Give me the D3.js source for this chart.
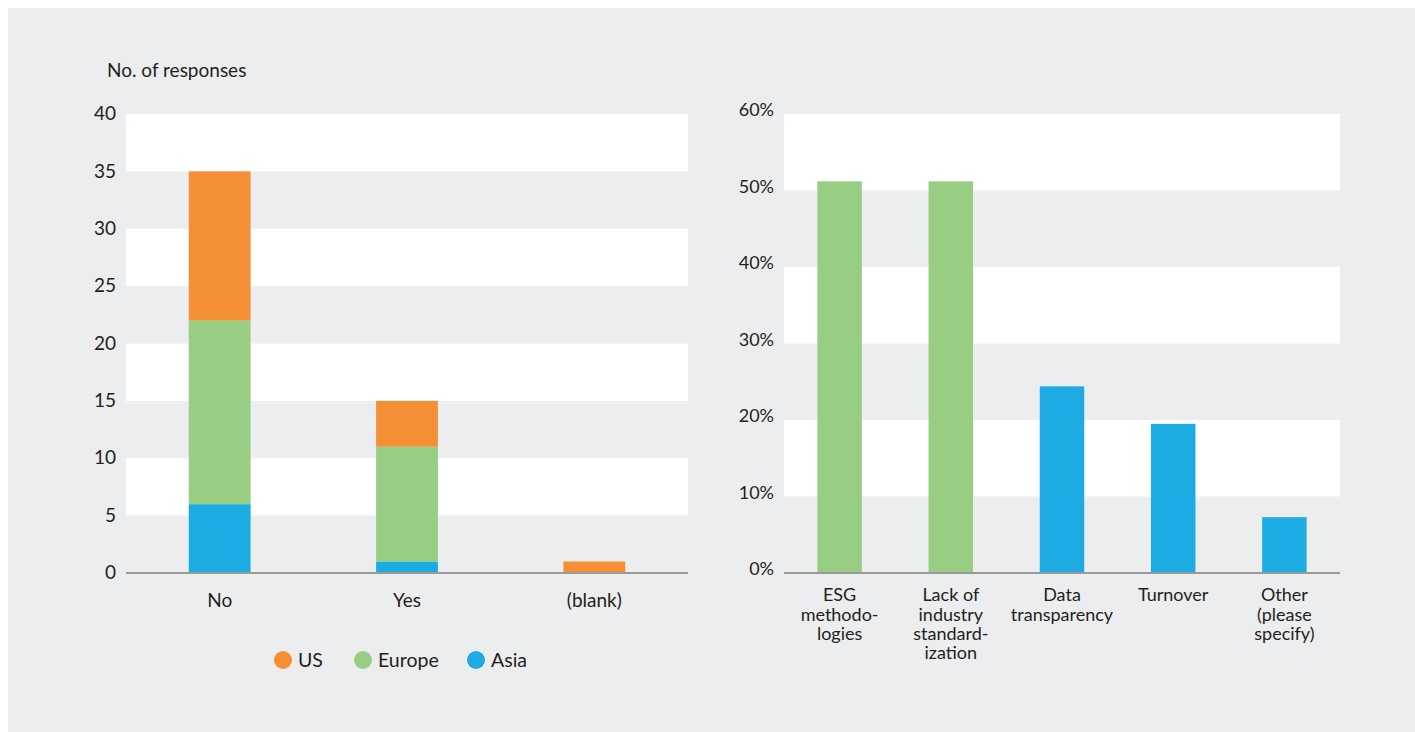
<!DOCTYPE html>
<html><head><meta charset="utf-8">
<script src="https://cdn.jsdelivr.net/npm/d3@7"></script>
<style>body{margin:0;background:#fff;font-family:Lato, "Open Sans", sans-serif;}</style>
</head><body><svg id="c" width="1415" height="732"></svg>
<script>
const leftCategories = ["No", "Yes", "(blank)"];
const seriesNames = ["Asia", "Europe", "US"];
const asiaValues = [6, 1, 0];
const europeValues = [16, 10, 0];
const usValues = [13, 4, 1];
const leftTicks = [0, 5, 10, 15, 20, 25, 30, 35, 40];

const rightCategories = [["ESG","methodo-","logies"],["Lack of","industry","standard-","ization"],["Data","transparency"],["Turnover"],["Other","(please","specify)"]];
const rightValues = [51.2, 51.2, 24.4, 19.5, 7.3];
const rightColorKeys = ["Europe","Europe","Asia","Asia","Asia"];
const rightTicks = [0, 10, 20, 30, 40, 50, 60];

const colors = {US:"#F58F35", Europe:"#98CE83", Asia:"#1CABE2"};
const svg = d3.select("#c");
svg.append("rect").attr("x",8).attr("y",8).attr("width",1407).attr("height",724).attr("fill","#ECEDEF");

// LEFT
const lx = d3.scaleBand().domain(leftCategories).range([126,688]).paddingInner(0.67).paddingOuter(0.335);
const ly = d3.scaleLinear().domain([0,40]).range([573,114]);
const gL = svg.append("g");
for (let i=0;i<leftTicks.length-1;i++){
  if (i%2===1) gL.append("rect").attr("x",126).attr("width",562).attr("y",ly(leftTicks[i+1])).attr("height",ly(leftTicks[i])-ly(leftTicks[i+1])).attr("fill","#fff");
}
const rows = leftCategories.map((c,i)=>({cat:c, Asia:asiaValues[i], Europe:europeValues[i], US:usValues[i]}));
const stack = d3.stack().keys(seriesNames)(rows);
stack.forEach(s=>{
  gL.selectAll(null).data(s.filter(d=>d[1]-d[0]>0)).enter().append("rect")
    .attr("x",d=>lx(d.data.cat)).attr("width",lx.bandwidth())
    .attr("y",d=>ly(d[1])).attr("height",d=>ly(d[0])-ly(d[1])).attr("fill",colors[s.key]);
});
gL.append("line").attr("x1",126).attr("x2",688).attr("y1",573).attr("y2",573).attr("stroke","#9a9a9a").attr("stroke-width",2);
const yAxL = gL.append("g").attr("transform","translate(116,0)").call(d3.axisLeft(ly).tickValues(leftTicks).tickSize(0).tickPadding(0));
yAxL.select(".domain").remove();
yAxL.selectAll("text").attr("font-size",19).attr("fill","#231f20").attr("font-family","Lato, sans-serif").attr("dy","0.3em");
const xAxL = gL.append("g").attr("transform","translate(0,573)").call(d3.axisBottom(lx).tickSize(0).tickPadding(0));
xAxL.select(".domain").remove();
xAxL.selectAll("text").attr("font-size",19).attr("fill","#231f20").attr("font-family","Lato, sans-serif").attr("y",27).attr("dy","0.35em");
svg.append("text").attr("x",107).attr("y",77).attr("font-size",19).attr("fill","#231f20").text("No. of responses");

// legend
const legendItems = [{k:"US",cx:283},{k:"Europe",cx:363},{k:"Asia",cx:476}];
legendItems.forEach(it=>{
  svg.append("circle").attr("cx",it.cx).attr("cy",660).attr("r",9).attr("fill",colors[it.k]);
  svg.append("text").attr("x",it.cx+15).attr("y",660).attr("dy","0.35em").attr("font-size",19.5).attr("fill","#231f20").text(it.k);
});

// RIGHT
const rx = d3.scaleBand().domain(d3.range(rightValues.length)).range([784,1340]).paddingInner(0.6).paddingOuter(0.3);
const ry = d3.scaleLinear().domain([0,60]).range([573,114]);
const gR = svg.append("g");
for (let i=0;i<rightTicks.length-1;i++){
  if (i%2===1) gR.append("rect").attr("x",784).attr("width",556).attr("y",ry(rightTicks[i+1])).attr("height",ry(rightTicks[i])-ry(rightTicks[i+1])).attr("fill","#fff");
}
gR.selectAll(null).data(rightValues).enter().append("rect")
  .attr("x",(d,i)=>rx(i)).attr("width",rx.bandwidth())
  .attr("y",d=>ry(d)).attr("height",d=>573-ry(d)).attr("fill",(d,i)=>colors[rightColorKeys[i]]);
gR.append("line").attr("x1",784).attr("x2",1340).attr("y1",573).attr("y2",573).attr("stroke","#9a9a9a").attr("stroke-width",2);
const yAxR = gR.append("g").attr("transform","translate(774,0)").call(d3.axisLeft(ry).tickValues(rightTicks).tickSize(0).tickPadding(0).tickFormat(d=>d+"%"));
yAxR.select(".domain").remove();
yAxR.selectAll("text").attr("font-size",18).attr("fill","#231f20").attr("font-family","Lato, sans-serif").attr("dy","0.1em");
const xAxR = gR.append("g").attr("transform","translate(0,573)").call(d3.axisBottom(rx).tickSize(0).tickPadding(0).tickFormat(""));
xAxR.select(".domain").remove();
xAxR.selectAll(".tick").each(function(d){
  const t = d3.select(this).append("text").attr("fill","#231f20").attr("font-size",18).attr("font-family","Lato, sans-serif").attr("text-anchor","middle");
  rightCategories[d].forEach((line,j)=>{
    t.append("tspan").attr("x",0).attr("y",22+j*19.3).attr("dy","0.35em").text(line);
  });
});
</script></body></html>
